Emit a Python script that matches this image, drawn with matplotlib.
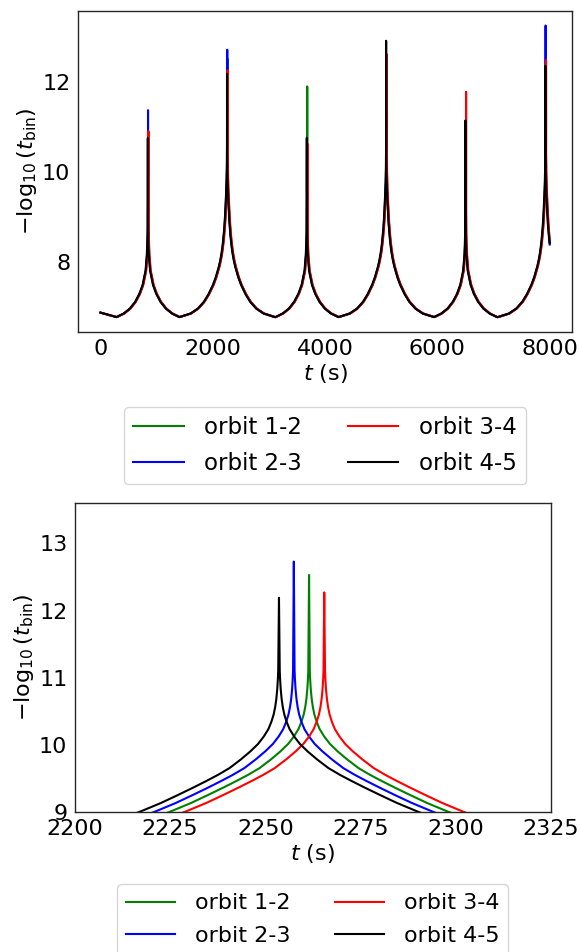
import numpy as np
import matplotlib
matplotlib.use("Agg")
import matplotlib.pyplot as plt

# ---------------- data ----------------
labels = ["orbit 1-2", "orbit 2-3", "orbit 3-4", "orbit 4-5"]
colors = ["green", "blue", "red", "black"]

# cusp (close-encounter) times for each orbit pair (s)
cusps_12 = [851, 2261.5, 3682, 5095, 6507, 7931]
cusps_23 = [847, 2257.5, 3678, 5091, 6503, 7927]
cusps_34 = [855, 2265.5, 3686, 5099, 6511, 7935]
cusps_45 = [843, 2253.6, 3674, 5087, 6499, 7923]
cusp_kind = ["narrow", "broad", "narrow", "broad", "narrow", "broad"]

# peak value of -log10(t_bin) at each cusp
peaks_12 = [10.60, 12.53, 11.91, 12.30, 11.00, 12.20]
peaks_23 = [11.38, 12.73, 10.50, 12.10, 10.90, 13.27]
peaks_34 = [10.91, 12.27, 10.63, 12.63, 11.79, 12.50]
peaks_45 = [10.76, 12.19, 10.76, 12.93, 11.15, 12.37]

# profile of the curve vs. time distance from a cusp
broad_dt = [0.2, 0.3, 0.45, 0.7, 1.0, 1.4, 2.0, 2.8, 4.0, 5.5, 7.5, 10, 13,
            16, 19, 22.5, 26.5, 31, 36.5, 43, 50, 60, 70, 85, 100, 120, 145,
            170, 200, 250, 330, 413, 520, 650, 850]
broad_y = [11.10, 10.97, 10.83, 10.68, 10.56, 10.45, 10.34, 10.23, 10.12,
           10.01, 9.90, 9.78, 9.65, 9.55, 9.46, 9.36, 9.25, 9.13, 9.00, 8.86,
           8.74, 8.59, 8.46, 8.30, 8.17, 8.03, 7.89, 7.78, 7.65, 7.48, 7.27,
           7.10, 6.95, 6.84, 6.76]
narrow_dt = [0.2, 0.5, 1, 2, 5, 10, 18, 40, 92, 150, 226, 320, 430, 560]
narrow_y = [9.9, 9.6, 9.35, 9.05, 8.65, 8.4, 8.15, 7.8, 7.48, 7.28, 7.10,
            6.95, 6.84, 6.76]

t_start, y_start = 0.0, 6.86
t_end = 8000.0
y_end = [8.43, 8.38, 8.47, 8.41]

# ---------------- build curves ----------------
profiles = {"broad": (np.array(broad_dt), np.array(broad_y)),
            "narrow": (np.array(narrow_dt), np.array(narrow_y))}


def build(cusps, peaks, yend):
    ts = [t_start]
    ys = [y_start]
    for c, k, p in zip(cusps, cusp_kind, peaks):
        dt, yy = profiles[k]
        ts += list(c - dt[::-1]) + [c] + list(c + dt)
        ys += list(yy[::-1]) + [p] + list(yy)
    ts = np.array(ts)
    ys = np.array(ys)
    m = (ts >= t_start) & (ts < t_end)
    ts, ys = ts[m], ys[m]
    ts = np.append(ts, t_end)
    ys = np.append(ys, yend)
    return ts, ys


series = [build(cusps_12, peaks_12, y_end[0]),
          build(cusps_23, peaks_23, y_end[1]),
          build(cusps_34, peaks_34, y_end[2]),
          build(cusps_45, peaks_45, y_end[3])]

# ---------------- plot ----------------
FS = 16
fig = plt.figure(figsize=(5.8, 9.52), dpi=100)
ax1 = fig.add_axes([0.1345, 0.6516, 0.852, 0.3369])
ax2 = fig.add_axes([0.1293, 0.1474, 0.8202, 0.3240])

for ax in (ax1, ax2):
    for (t, y), c, lab in zip(series, colors, labels):
        ax.plot(t, y, color=c, lw=1.5, label=lab)
    ax.tick_params(length=0, labelsize=FS, pad=5.5)
    for s in ax.spines.values():
        s.set_color("0.15")
        s.set_linewidth(1.0)
    ax.set_xlabel(r"$t$ (s)", fontsize=FS, labelpad=2)
    ax.set_ylabel(r"$-\log_{10}(t_{\rm bin})$", fontsize=FS, labelpad=2)

ax1.set_xticks([0, 2000, 4000, 6000, 8000])
ax1.set_yticks([8, 10, 12])

ax2.set_xlim(2200, 2325)
ax2.set_ylim(9, 13.6)
ax2.set_xticks([2200, 2225, 2250, 2275, 2300, 2325])
ax2.set_yticks([9, 10, 11, 12, 13])

leg_kw = dict(loc="upper center", ncol=2, labelspacing=0.55,
              handlelength=2.2, handletextpad=0.9, columnspacing=2.0)
ax1.legend(bbox_to_anchor=(0.5, -0.2), fontsize=16.5, **leg_kw)
ax2.legend(bbox_to_anchor=(0.5, -0.2), fontsize=16, **leg_kw)

fig.savefig("out.png", dpi=100)
